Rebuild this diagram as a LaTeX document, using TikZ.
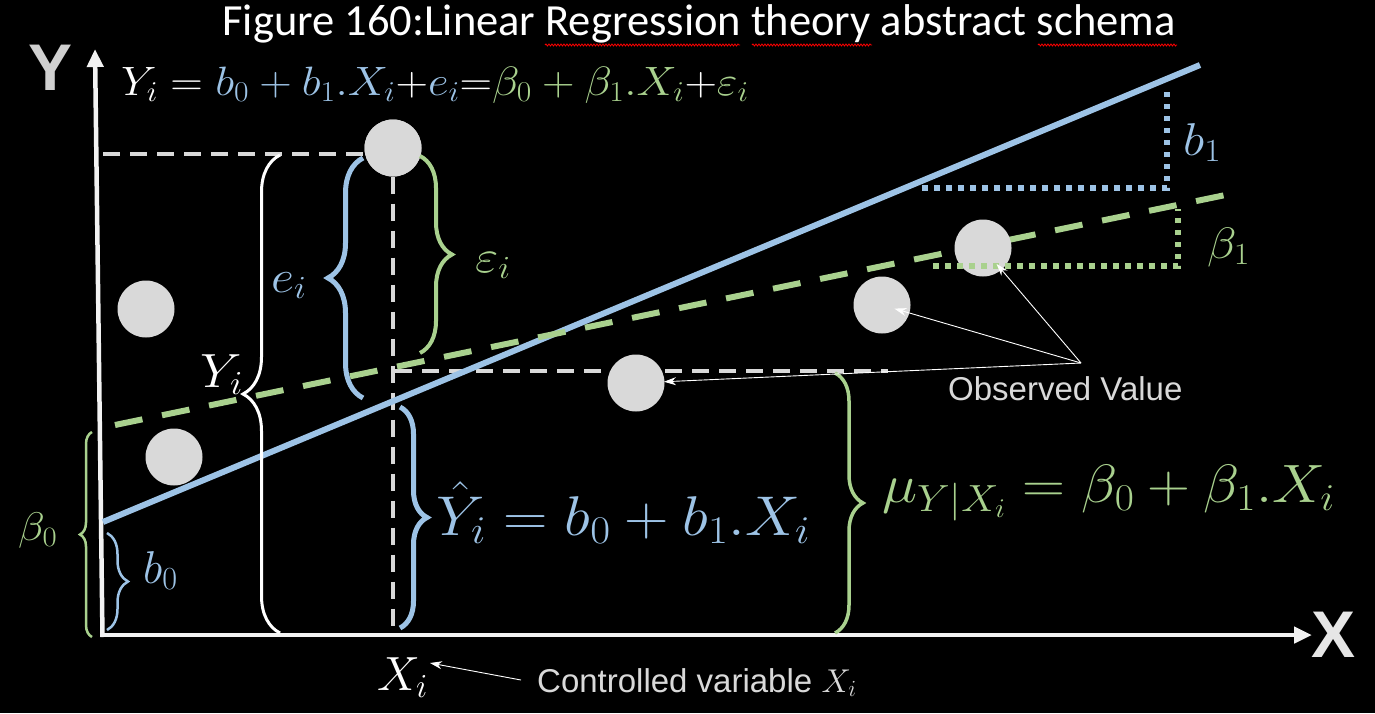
\RequirePackage{fix-cm}
\documentclass[tikz,border=0pt]{standalone}
\usepackage{fontspec}
\usepackage{graphicx}
\newfontfamily\calib{Carlito}
\newfontfamily\arial{Liberation Sans}
\usetikzlibrary{arrows.meta,decorations.pathreplacing,decorations.pathmorphing}
\definecolor{cblue}{HTML}{9DC3E6}
\definecolor{cgreen}{HTML}{A9D18E}
\definecolor{cgray}{HTML}{D9D9D9}
\definecolor{cax}{HTML}{F2F2F2}
\definecolor{cyl}{HTML}{D0D0D0}
\definecolor{cxl}{HTML}{E6E6E6}
\newcommand\wide[1]{\scalebox{1.1}[1]{#1}}
\begin{document}
\begin{tikzpicture}[x=1pt,y=-1pt,
  axis/.style={draw=cax, line width=4.5pt, -{Triangle[length=18pt,width=16pt]}},
  bline/.style={draw=cblue, line width=6pt},
  gline/.style={draw=cgreen, line width=6pt, dash pattern=on 28pt off 20pt},
  gdash/.style={draw=cgray, line width=4pt, dash pattern=on 17pt off 10pt},
  bdot/.style={draw=cblue, line width=5.5pt, dash pattern=on 5.5pt off 6.5pt},
  gdot/.style={draw=cgreen, line width=5.5pt, dash pattern=on 5.5pt off 6.5pt},
  obspt/.style={circle, fill=cgray, minimum size=57pt, inner sep=0pt},
  brc/.style={decorate, decoration={brace, amplitude=#1}},
  thinarr/.style={draw=white, line width=0.9pt, -{Stealth[length=12pt,width=8pt]}},
  lbl/.style={anchor=base west, inner sep=0pt},
  squig/.style={draw=red, line width=0.8pt, decorate, decoration={snake, amplitude=1pt, segment length=3pt}}
]
\fill[black] (0,0) rectangle (1375,713);
\useasboundingbox (0,0) rectangle (1375,713);

% title
\node[anchor=base, inner sep=0pt, text=white, font=\calib\fontsize{44.5}{48}\selectfont] (title) at (699,35) {Figure 160:Linear Regression theory abstract schema};
\draw[squig] (545,45) -- (740,45);
\draw[squig] (752,45) -- (872,45);
\draw[squig] (1038,45) -- (1177,45);

% axes
\coordinate (ybot) at (102.5,637);
\coordinate (ytip) at (95,49);
\coordinate (xbot) at (100,635);
\coordinate (xtip) at (1312,635);
\draw[axis] (ybot) -- (ytip);
\draw[axis] (xbot) -- (xtip);
\node[anchor=base, inner sep=0pt, text=cyl, font=\arial\bfseries\fontsize{66}{66}\selectfont] (ylab) at (50.5,90) {Y};
\node[anchor=base, inner sep=0pt, text=cxl, font=\arial\bfseries\fontsize{66}{66}\selectfont] (xlab) at (1333,657) {X};

% gray dashed guides
\node[obspt] (p1) at (393,148) {};
\coordinate (h1) at (103,154);
\coordinate (h1e) at (364,154);
\coordinate (v1b) at (393,632);
\coordinate (h2s) at (395,371);
\coordinate (h2e) at (888,371);
\draw[gdash] (h1) -- (h1e);
\draw[gdash] (p1.south) -- (v1b);
\draw[gdash] (h2s) -- (h2e);

% regression lines
\coordinate (bl0) at (103,522);
\coordinate (bl1) at (1200,65);
\coordinate (gl0) at (115,425);
\coordinate (gl1) at (1240,192);
\draw[bline] (bl0) -- (bl1);
\draw[gline] (gl0) -- (gl1);

% points
\node[obspt] (q1) at (393,148) {};
\node[obspt] (q2) at (146,309) {};
\node[obspt] (q3) at (174,457) {};
\node[obspt] (q4) at (636,383) {};
\node[obspt] (q5) at (882,305) {};
\node[obspt] (q6) at (983,248) {};

% slope triangles
\coordinate (bd1) at (922,188);
\coordinate (bd2) at (1167,188);
\coordinate (bd3) at (1167,86);
\draw[bdot] (bd1) -- (bd2) -- (bd3);
\coordinate (gd1) at (933,266);
\coordinate (gd2) at (1178,266);
\coordinate (gd3) at (1178,209);
\draw[gdot] (gd1) -- (gd2) -- (gd3);

% braces
\coordinate (wb1) at (280,633);
\coordinate (wb2) at (280,155);
\draw[draw=white, line width=3pt, brc=37pt] (wb1) -- (wb2);
\coordinate (eb1) at (363,398);
\coordinate (eb2) at (363,158);
\draw[draw=cblue, line width=5pt, brc=35pt] (eb1) -- (eb2);
\coordinate (sb1) at (420,156);
\coordinate (sb2) at (420,353);
\draw[draw=cgreen, line width=4pt, brc=32pt] (sb1) -- (sb2);
\coordinate (yb1) at (400,407);
\coordinate (yb2) at (400,628);
\draw[draw=cblue, line width=5pt, brc=27pt] (yb1) -- (yb2);
\coordinate (mb1) at (835,373);
\coordinate (mb2) at (835,633);
\draw[draw=cgreen, line width=3.5pt, brc=28pt] (mb1) -- (mb2);
\coordinate (be1) at (92,637);
\coordinate (be2) at (92,432);
\draw[draw=cgreen, line width=2.5pt, brc=12pt] (be1) -- (be2);
\coordinate (bz1) at (107,533);
\coordinate (bz2) at (107,630);
\draw[draw=cblue, line width=2.5pt, brc=21pt] (bz1) -- (bz2);

% labels
\node[lbl, text=white, font=\fontsize{41}{44}\selectfont] (eq) at (121,95)
  {\wide{$Y_i = \textcolor{cblue}{b_0 + b_1.X_i}{+}\textcolor{cblue}{e_i}{=}\textcolor{cgreen}{\beta_0 + \beta_1.X_i}{+}\textcolor{cgreen}{\varepsilon_i}$}};
\node[lbl, text=cblue, font=\fontsize{46}{48}\selectfont] (lei) at (271,292) {\wide{$e_i$}};
\node[lbl, text=white, font=\fontsize{48}{50}\selectfont] (lyi) at (200,387) {\wide{$Y_i$}};
\node[lbl, text=cgreen, font=\fontsize{46}{48}\selectfont] (lep) at (475,272) {\wide{$\varepsilon_i$}};
\node[lbl, text=cblue, font=\fontsize{46}{48}\selectfont] (lb1) at (1183,155) {\wide{$b_1$}};
\node[lbl, text=cgreen, font=\fontsize{44}{48}\selectfont] (lbe1) at (1207,258) {\wide{$\beta_1$}};
\node[lbl, text=cgreen, font=\fontsize{40}{44}\selectfont] (lbe0) at (18,540) {\wide{$\beta_0$}};
\node[lbl, text=cblue, font=\fontsize{46}{48}\selectfont] (lb0) at (143,583) {$b_0$};
\node[lbl, text=cblue, font=\fontsize{56}{58}\selectfont] (lyhat) at (436,535) {\wide{$\hat{Y}_i = b_0 + b_1.X_i$}};
\node[lbl, text=cgreen, font=\fontsize{54}{58}\selectfont] (lmu) at (882,502) {\wide{$\mu_{Y|X_i} = \beta_0 + \beta_1.X_i$}};
\node[lbl, text=white, font=\fontsize{48}{50}\selectfont] (lxi) at (377,690) {$X_i$};
\node[lbl, text=cgray, font=\arial\fontsize{33}{36}\selectfont] (lobs) at (948,400) {Observed Value};
\node[lbl, text=cgray, font=\arial\fontsize{33}{36}\selectfont] (lctl) at (537,692) {Controlled variable $X_i$};

% pointer arrows
\coordinate (ov) at (1081,363);
\coordinate (ctlstart) at (521,680);
\coordinate (xitip) at (430,663);
\draw[thinarr, shorten >=28pt] (ov) -- (q4.center);
\draw[thinarr, shorten >=13pt] (ov) -- (q5.center);
\draw[thinarr, shorten >=21pt] (ov) -- (q6.center);
\draw[thinarr] (ctlstart) -- (xitip);
\end{tikzpicture}
\end{document}
